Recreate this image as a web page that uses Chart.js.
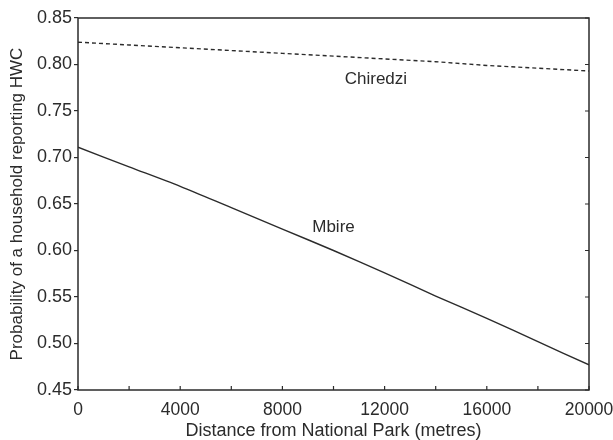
<!DOCTYPE html>
<html>
<head>
<meta charset="utf-8">
<script src="https://cdn.jsdelivr.net/npm/chart.js@4"></script>
<style>
  html, body { margin: 0; padding: 0; background: #fff; }
  #wrap { width: 613px; height: 440px; }
</style>
</head>
<body>
<div id="wrap"><canvas id="myChart"></canvas></div>
<script>
const distances = [0, 2000, 4000, 6000, 8000, 10000, 12000, 14000, 16000, 18000, 20000]
const chiredzi = [0.824, 0.821, 0.818, 0.815, 0.812, 0.809, 0.806, 0.803, 0.799, 0.796, 0.793]
const mbire = [0.711, 0.690, 0.669, 0.646, 0.623, 0.600, 0.576, 0.551, 0.527, 0.502, 0.477]
const curveLabels = [
  { text: 'Chiredzi', x: 11660, y: 0.784 },
  { text: 'Mbire', x: 10000, y: 0.625 }
]

const ink = '#2b2b2b'
const fontFamily = '"Liberation Sans", Arial, sans-serif'

// box round the plot, inward ticks on bottom and right, curve names
const framePlugin = {
  id: 'frame',
  afterDatasetsDraw(chart) {
    const { ctx, chartArea: a, scales } = chart
    ctx.save()
    ctx.strokeStyle = ink
    ctx.lineWidth = 1.5
    ctx.strokeRect(a.left, a.top, a.right - a.left, a.bottom - a.top)
    ctx.lineWidth = 1.2
    ctx.beginPath()
    for (let v = 0; v <= 20000; v += 2000) {
      const px = scales.x.getPixelForValue(v)
      ctx.moveTo(px, a.bottom)
      ctx.lineTo(px, a.bottom - 4)
    }
    scales.y.ticks.forEach(t => {
      const py = scales.y.getPixelForValue(t.value)
      ctx.moveTo(a.right, py)
      ctx.lineTo(a.right - 4, py)
    })
    ctx.stroke()
    ctx.fillStyle = ink
    ctx.font = '17px ' + fontFamily
    ctx.textAlign = 'center'
    ctx.textBaseline = 'middle'
    curveLabels.forEach(l => {
      ctx.fillText(l.text, scales.x.getPixelForValue(l.x), scales.y.getPixelForValue(l.y))
    })
    ctx.restore()
  }
}

const data = {
  datasets: [
    {
      label: 'Chiredzi',
      data: distances.map((d, i) => ({ x: d, y: chiredzi[i] })),
      borderColor: ink,
      borderWidth: 1.4,
      borderDash: [4, 3],
      pointRadius: 0,
      fill: false
    },
    {
      label: 'Mbire',
      data: distances.map((d, i) => ({ x: d, y: mbire[i] })),
      borderColor: ink,
      borderWidth: 1.4,
      pointRadius: 0,
      tension: 0.3,
      fill: false
    }
  ]
}

const config = {
  type: 'line',
  data: data,
  plugins: [framePlugin],
  options: {
    responsive: true,
    maintainAspectRatio: false,
    animation: false,
    layout: { padding: { top: 18, right: 24, left: 0, bottom: 0 } },
    plugins: {
      legend: { display: false },
      tooltip: { enabled: false }
    },
    scales: {
      x: {
        type: 'linear',
        min: 0,
        max: 20000,
        afterFit(scale) {
          scale.height = 50
          scale.paddingRight = 0
          scale.paddingLeft = 0
        },
        border: { display: false },
        grid: { display: false },
        ticks: {
          stepSize: 4000,
          color: ink,
          padding: 2,
          maxRotation: 0,
          font: { family: fontFamily, size: 17.5 },
          callback: v => String(v)
        },
        title: {
          display: true,
          text: 'Distance from National Park (metres)',
          color: ink,
          padding: { top: 0, bottom: 0 },
          font: { family: fontFamily, size: 18, lineHeight: 1 }
        }
      },
      y: {
        min: 0.45,
        max: 0.85,
        afterFit(scale) { scale.width = 78 },
        border: { display: false },
        grid: { drawOnChartArea: false, drawTicks: true, tickLength: 4, color: ink, lineWidth: 1.2 },
        ticks: {
          stepSize: 0.05,
          color: ink,
          padding: 2,
          font: { family: fontFamily, size: 18 },
          callback: v => v.toFixed(2)
        },
        title: {
          display: true,
          text: 'Probability of a household reporting HWC',
          color: ink,
          padding: { top: 9, bottom: 0 },
          font: { family: fontFamily, size: 17, lineHeight: 1 }
        }
      }
    }
  }
}

new Chart(document.querySelector('#myChart'), config)
</script>
</body>
</html>
